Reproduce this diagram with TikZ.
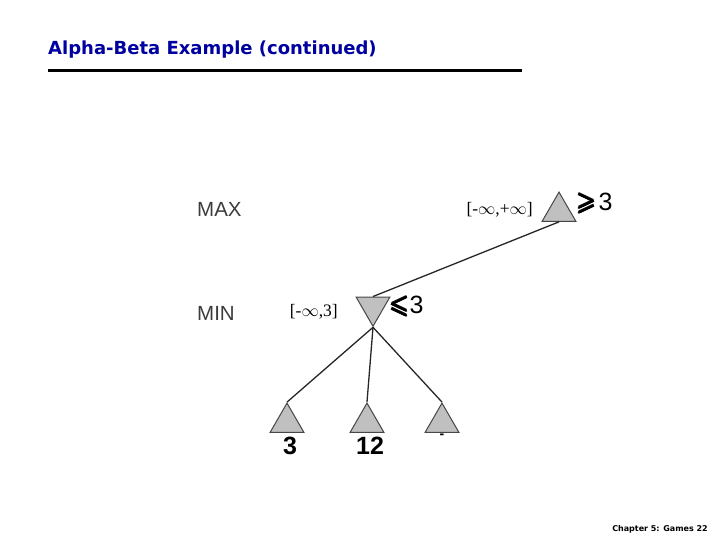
\documentclass[tikz,border=0pt]{standalone}
\usepackage{amsmath,amssymb}
\usepackage{fontspec}
\setmainfont{Liberation Serif}
\setsansfont{Liberation Sans}
\newfontfamily\titlefont{DejaVu Sans}
\usetikzlibrary{shapes.geometric}
\definecolor{titleblue}{RGB}{0,0,160}
\definecolor{tri_fill}{RGB}{192,192,192}
\definecolor{tri_line}{RGB}{70,70,70}
\definecolor{level_grey}{RGB}{60,60,60}
\begin{document}
\begin{tikzpicture}[x=1pt,y=-1pt,
        max_tri/.style={regular polygon, regular polygon sides=3, minimum size=39pt, inner sep=0pt, draw=tri_line, line width=1pt, fill=tri_fill},
        min_tri/.style={max_tri, shape border rotate=180},
        level_label/.style={font=\sffamily\fontsize{20.5}{24}\selectfont, text=level_grey, anchor=west, inner sep=0pt},
        bound_label/.style={font=\fontsize{17.5}{20}\selectfont, inner sep=0pt},
        value_label/.style={font=\sffamily\bfseries\fontsize{25}{28}\selectfont, inner sep=0pt},
        bound_sym/.style={font=\sffamily\fontsize{25}{28}\selectfont, inner sep=0pt, anchor=west},
        edge/.style={line width=1.3pt, draw=black!85}
    ]
        \useasboundingbox (0,0) rectangle (720,540);

        % Title
        \node[anchor=base west, inner sep=0pt, text=titleblue, font=\titlefont\bfseries\fontsize{18}{21}\selectfont] (title) at (48,55) {Alpha-Beta Example (continued)};
        \draw[line width=3pt] (48,71) -- (522,71);

        % Levels
        \node[level_label] (maxlabel) at (197,209) {MAX};
        \node[level_label] (minlabel) at (197,313) {MIN};

        % Nodes
        \node[max_tri] (root) at (559,211.6) {};
        \node[min_tri] (mid) at (373,306.8) {};
        \node[max_tri] (leafA) at (287,422.6) {};
        \node[max_tri] (leafB) at (367,422.6) {};
        \node[max_tri] (leafC) at (442,422.6) {};

        % Bounds and values
        \node[bound_label, anchor=east] (rootbound) at (533,210) {[-$\infty$,+$\infty$]};
        \node[bound_label, anchor=east] (midbound) at (338,312) {[-$\infty$,3]};
        \node[bound_sym] (rootval) at (577,203) {\pmb{\pmb{$\geqslant$}}\hspace{2pt}3};
        \node[bound_sym] (midval) at (390,306) {\pmb{\pmb{$\leqslant$}}3};
        \node[value_label] (valA) at (290,446) {3};
        \node[value_label] (valB) at (370,446) {12};
        \node[value_label, font=\sffamily\bfseries\fontsize{14}{16}\selectfont] (valC) at (442,436) {-};

        % Edges
        \draw[edge] (root.south) -- (mid.north);
        \draw[edge] (mid.corner 1) -- (leafA.corner 1);
        \draw[edge] (mid.corner 1) -- (leafB.corner 1);
        \draw[edge] (mid.corner 1) -- (leafC.corner 1);

        % Footer
        \node[anchor=base east, inner sep=0pt, font=\titlefont\bfseries\fontsize{8}{9.5}\selectfont] (footer) at (708,531) {Chapter 5: Games 22};
    \end{tikzpicture}
\end{document}
